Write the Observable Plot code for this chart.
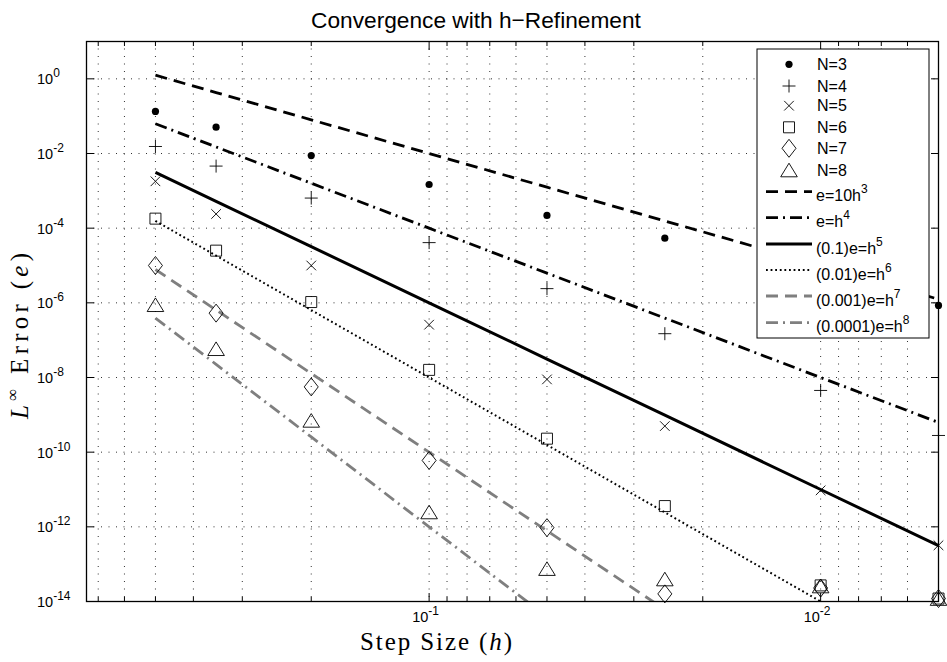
<!DOCTYPE html>
<html>
<head>
<meta charset="utf-8">
<script src="https://cdn.jsdelivr.net/npm/d3@7"></script>
<script src="https://cdn.jsdelivr.net/npm/@observablehq/plot@0.6"></script>
<style>
  body { margin: 0; background: #fff; }
  #chart svg { display: block; }
</style>
</head>
<body>
<div id="chart"></div>
<script>
// ---------------- data ----------------
const stepSizes = [0.5, 0.35, 0.2, 0.1, 0.05, 0.025, 0.01, 0.005];

const errN3 = [0.134, 0.0506, 0.0088, 1.48e-3, 2.2e-4, 5.4e-5, null, 8.5e-7];
const errN4 = [0.0154, 4.6e-3, 6.4e-4, 4.1e-5, 2.4e-6, 1.49e-7, 4.5e-9, 2.8e-10];
const errN5 = [1.8e-3, 2.4e-4, 1.0e-5, 2.6e-7, 8.9e-9, 5.0e-10, 9.5e-12, 3.2e-13];
const errN6 = [1.8e-4, 2.5e-5, 1.05e-6, 1.6e-8, 2.3e-10, 3.6e-12, 2.7e-14, 1.2e-14];
const errN7 = [1.0e-5, 5.3e-7, 5.6e-9, 6.0e-11, 9.5e-13, 1.6e-14, 2.3e-14, 1.2e-14];
const errN8 = [8.9e-7, 5.9e-8, 7.1e-10, 2.5e-12, 7.6e-14, 4.0e-14, 2.6e-14, 1.2e-14];

// reference lines (values of the legend's laws at the step sizes)
const ref3 = [1.25, 0.42875, 0.08, 0.01, 1.25e-3, 1.5625e-4, 1e-5, 1.25e-6];
const ref4 = [0.0625, 0.01500625, 1.6e-3, 1e-4, 6.25e-6, 3.90625e-7, 1e-8, 6.25e-10];
const ref5 = [3.125e-3, 5.2521875e-4, 3.2e-5, 1e-6, 3.125e-8, 9.765625e-10, 1e-11, 3.125e-13];
const ref6 = [1.5625e-4, 1.838265625e-5, 6.4e-7, 1e-8, 1.5625e-10, 2.44140625e-12, 1e-14, 1.5625e-16];
const ref7 = [7.8125e-6, 6.43392969e-7, 1.28e-8, 1e-10, 7.8125e-13, 6.1035e-15, 1e-17, 7.8125e-20];
const ref8 = [3.90625e-7, 2.2518754e-8, 2.56e-10, 1e-12, 3.90625e-15, 1.5259e-17, 1e-20, 3.90625e-22];

const markerLabels = ["N=3", "N=4", "N=5", "N=6", "N=7", "N=8"];
const lineLabelBase = ["e=10h", "e=h", "(0.1)e=h", "(0.01)e=h", "(0.001)e=h", "(0.0001)e=h"];
const lineLabelSup = ["3", "4", "5", "6", "7", "8"];

const yTicks = [1, 1e-2, 1e-4, 1e-6, 1e-8, 1e-10, 1e-12, 1e-14];
const yTickExp = ["0", "-2", "-4", "-6", "-8", "-10", "-12", "-14"];
const xMajorTicks = [0.1, 0.01];
const xTickExp = ["-1", "-2"];
const xMinorTicks = [0.7, 0.6, 0.5, 0.4, 0.3, 0.2,
                     0.09, 0.08, 0.07, 0.06, 0.05, 0.04, 0.03, 0.02,
                     0.009, 0.008, 0.007, 0.006];

const titleText = "Convergence with h\u2212Refinement";

// ---------------- styles ----------------
const SANS = "'Liberation Sans', Arial, Helvetica, sans-serif";
const SERIF = "'Liberation Serif', 'Times New Roman', serif";
const GRAY = "#7f7f7f";

// Matlab-like marker shapes (k = unit from Plot's r)
function sym(drawFn) {
  return { draw(ctx, size) { const k = Math.sqrt(size / Math.PI); drawFn(ctx, k); } };
}
const symDot = sym((c, k) => { c.moveTo(3.6 * k, 0); c.arc(0, 0, 3.6 * k, 0, 2 * Math.PI); });
const symPlus = sym((c, k) => { c.moveTo(-6.5 * k, 0); c.lineTo(6.5 * k, 0); c.moveTo(0, -6.5 * k); c.lineTo(0, 6.5 * k); });
const symTimes = sym((c, k) => { c.moveTo(-4.8 * k, -4.8 * k); c.lineTo(4.8 * k, 4.8 * k); c.moveTo(-4.8 * k, 4.8 * k); c.lineTo(4.8 * k, -4.8 * k); });
const symSquare = sym((c, k) => { c.moveTo(-5.5 * k, -5.5 * k); c.lineTo(5.5 * k, -5.5 * k); c.lineTo(5.5 * k, 5.5 * k); c.lineTo(-5.5 * k, 5.5 * k); c.closePath(); });
const symDiamond = sym((c, k) => { c.moveTo(0, -9 * k); c.lineTo(7 * k, 0); c.lineTo(0, 9 * k); c.lineTo(-7 * k, 0); c.closePath(); });
const symTriangle = sym((c, k) => { c.moveTo(0, -6.8 * k); c.lineTo(8.3 * k, 6.8 * k); c.lineTo(-8.3 * k, 6.8 * k); c.closePath(); });

const seriesErr = [errN3, errN4, errN5, errN6, errN7, errN8];
const seriesSym = [symDot, symPlus, symTimes, symSquare, symDiamond, symTriangle];

const refSeries = [ref3, ref4, ref5, ref6, ref7, ref8];
const refStyle = [
  { stroke: "black", dash: "12,7" },
  { stroke: "black", dash: "12,5,2,5" },
  { stroke: "black", dash: null },
  { stroke: "black", dash: "1.8,2.8" },
  { stroke: GRAY, dash: "12,7" },
  { stroke: GRAY, dash: "12,5,2,5" }
];
const refWidth = [2.8, 2.8, 3, 2, 2.8, 2.8];

function table(values) {
  return stepSizes.map((h, i) => ({ h, e: values[i] })).filter(d => d.e != null);
}

// ---------------- layout ----------------
const W = 947, H = 662, mL = 86, mR = 9, mT = 41, mB = 61;

const marks = [];
// grid
marks.push(Plot.ruleX([...xMajorTicks, ...xMinorTicks], { x: d => d, stroke: "black", strokeWidth: 0.9, strokeDasharray: "1,6.5", strokeOpacity: 0.9 }));
marks.push(Plot.ruleY(yTicks, { y: d => d, stroke: "black", strokeWidth: 0.9, strokeDasharray: "1,6.5", strokeOpacity: 0.9 }));
// reference lines
refSeries.forEach((vals, i) => {
  marks.push(Plot.line(table(vals), {
    x: "h", y: "e", stroke: refStyle[i].stroke, strokeWidth: refWidth[i],
    strokeDasharray: refStyle[i].dash, strokeLinecap: "butt", clip: true
  }));
});
// markers
seriesErr.forEach((vals, i) => {
  const filled = i === 0;
  marks.push(Plot.dot(table(vals), {
    x: "h", y: "e", r: 1, symbol: seriesSym[i],
    fill: filled ? "black" : "none", stroke: filled ? "none" : "black", strokeWidth: 0.9
  }));
});
// frame and ticks (inward)
marks.push(Plot.frame({ stroke: "black", strokeWidth: 1.3 }));
marks.push(Plot.axisY(yTicks, { anchor: "left", tickSize: -8, fill: "none", label: null, stroke: "black" }));
marks.push(Plot.axisY(yTicks, { anchor: "right", tickSize: -8, fill: "none", label: null, stroke: "black" }));
marks.push(Plot.axisX(xMajorTicks, { anchor: "bottom", tickSize: -8, fill: "none", label: null, stroke: "black" }));
marks.push(Plot.axisX(xMajorTicks, { anchor: "top", tickSize: -8, fill: "none", label: null, stroke: "black" }));
marks.push(Plot.axisX(xMinorTicks, { anchor: "bottom", tickSize: -4, fill: "none", label: null, stroke: "black" }));
marks.push(Plot.axisX(xMinorTicks, { anchor: "top", tickSize: -4, fill: "none", label: null, stroke: "black" }));

const chart = Plot.plot({
  width: W, height: H,
  marginLeft: mL, marginRight: mR, marginTop: mT, marginBottom: mB,
  x: { type: "log", domain: [0.75, 0.005], axis: null },
  y: { type: "log", domain: [1e-14, 10], axis: null },
  style: { background: "white", fontFamily: SANS },
  marks
});
document.getElementById("chart").appendChild(chart);

// ---------------- texts & legend ----------------
const svg = d3.select(chart);
const xs = chart.scale("x"), ys = chart.scale("y");

// title
svg.append("text")
  .attr("x", 476).attr("y", 28)
  .attr("text-anchor", "middle")
  .style("font-family", SANS).style("font-size", "22.7px").attr("fill", "black")
  .text(titleText);

// y tick labels
yTicks.forEach((v, i) => {
  const t = svg.append("text")
    .attr("x", 37).attr("y", ys.apply(v) + 6)
    .attr("text-anchor", "start")
    .style("font-family", SANS).style("font-size", "14.5px").attr("fill", "black");
  t.append("tspan").text("10");
  t.append("tspan").attr("dy", -7).style("font-size", "12px").text(yTickExp[i]);
});

// x tick labels
xMajorTicks.forEach((v, i) => {
  const t = svg.append("text")
    .attr("x", xs.apply(v) - 3).attr("y", 622)
    .attr("text-anchor", "middle")
    .style("font-family", SANS).style("font-size", "14.5px").attr("fill", "black");
  t.append("tspan").text("10");
  t.append("tspan").attr("dy", -7).style("font-size", "12px").text(xTickExp[i]);
});

// x label
{
  const t = svg.append("text")
    .attr("x", 436).attr("y", 650)
    .attr("text-anchor", "middle")
    .attr("textLength", 152).attr("lengthAdjust", "spacing")
    .style("font-family", SERIF).style("font-size", "25px").attr("fill", "black");
  t.append("tspan").text("Step Size (");
  t.append("tspan").style("font-style", "italic").text("h");
  t.append("tspan").text(")");
}
// y label
{
  const t = svg.append("text")
    .attr("transform", "translate(28,336) rotate(-90)")
    .attr("text-anchor", "middle")
    .attr("textLength", 166).attr("lengthAdjust", "spacing")
    .style("font-family", SERIF).style("font-size", "25px").attr("fill", "black");
  t.append("tspan").style("font-style", "italic").text("L");
  t.append("tspan").attr("dy", -10).style("font-size", "17px").text("\u221E");
  t.append("tspan").attr("dy", 10).text(" Error (");
  t.append("tspan").style("font-style", "italic").text("e");
  t.append("tspan").text(")");
}

// legend
const lg = svg.append("g").attr("class", "legend");
lg.append("rect").attr("x", 757).attr("y", 49).attr("width", 172).attr("height", 289)
  .attr("fill", "white").attr("stroke", "black").attr("stroke-width", 1);
const markerRowY = [64.3, 86, 105.7, 127.3, 148.3, 170];
markerLabels.forEach((lab, i) => {
  const filled = i === 0;
  lg.append("path")
    .attr("transform", `translate(789,${markerRowY[i]})`)
    .attr("d", d3.symbol().type(seriesSym[i]).size(Math.PI)())
    .attr("fill", filled ? "black" : "none")
    .attr("stroke", filled ? "none" : "black").attr("stroke-width", 0.9);
  lg.append("text").attr("x", 817).attr("y", markerRowY[i] + 5.5)
    .attr("text-anchor", "start")
    .style("font-family", SANS).style("font-size", "16px").attr("fill", "black").text(lab);
});
const lineRowY = [191.7, 217.7, 244, 270, 296, 322.7];
lineLabelBase.forEach((lab, i) => {
  lg.append("line").attr("x1", 766).attr("x2", 812).attr("y1", lineRowY[i]).attr("y2", lineRowY[i])
    .attr("stroke", refStyle[i].stroke).attr("stroke-width", refWidth[i])
    .attr("stroke-dasharray", refStyle[i].dash);
  const t = lg.append("text").attr("x", 816).attr("y", lineRowY[i] + 9.5)
    .attr("text-anchor", "start")
    .style("font-family", SANS).style("font-size", "16px").attr("fill", "black");
  t.append("tspan").text(lab);
  t.append("tspan").attr("dy", -8).style("font-size", "12px").text(lineLabelSup[i]);
});
</script>
</body>
</html>
